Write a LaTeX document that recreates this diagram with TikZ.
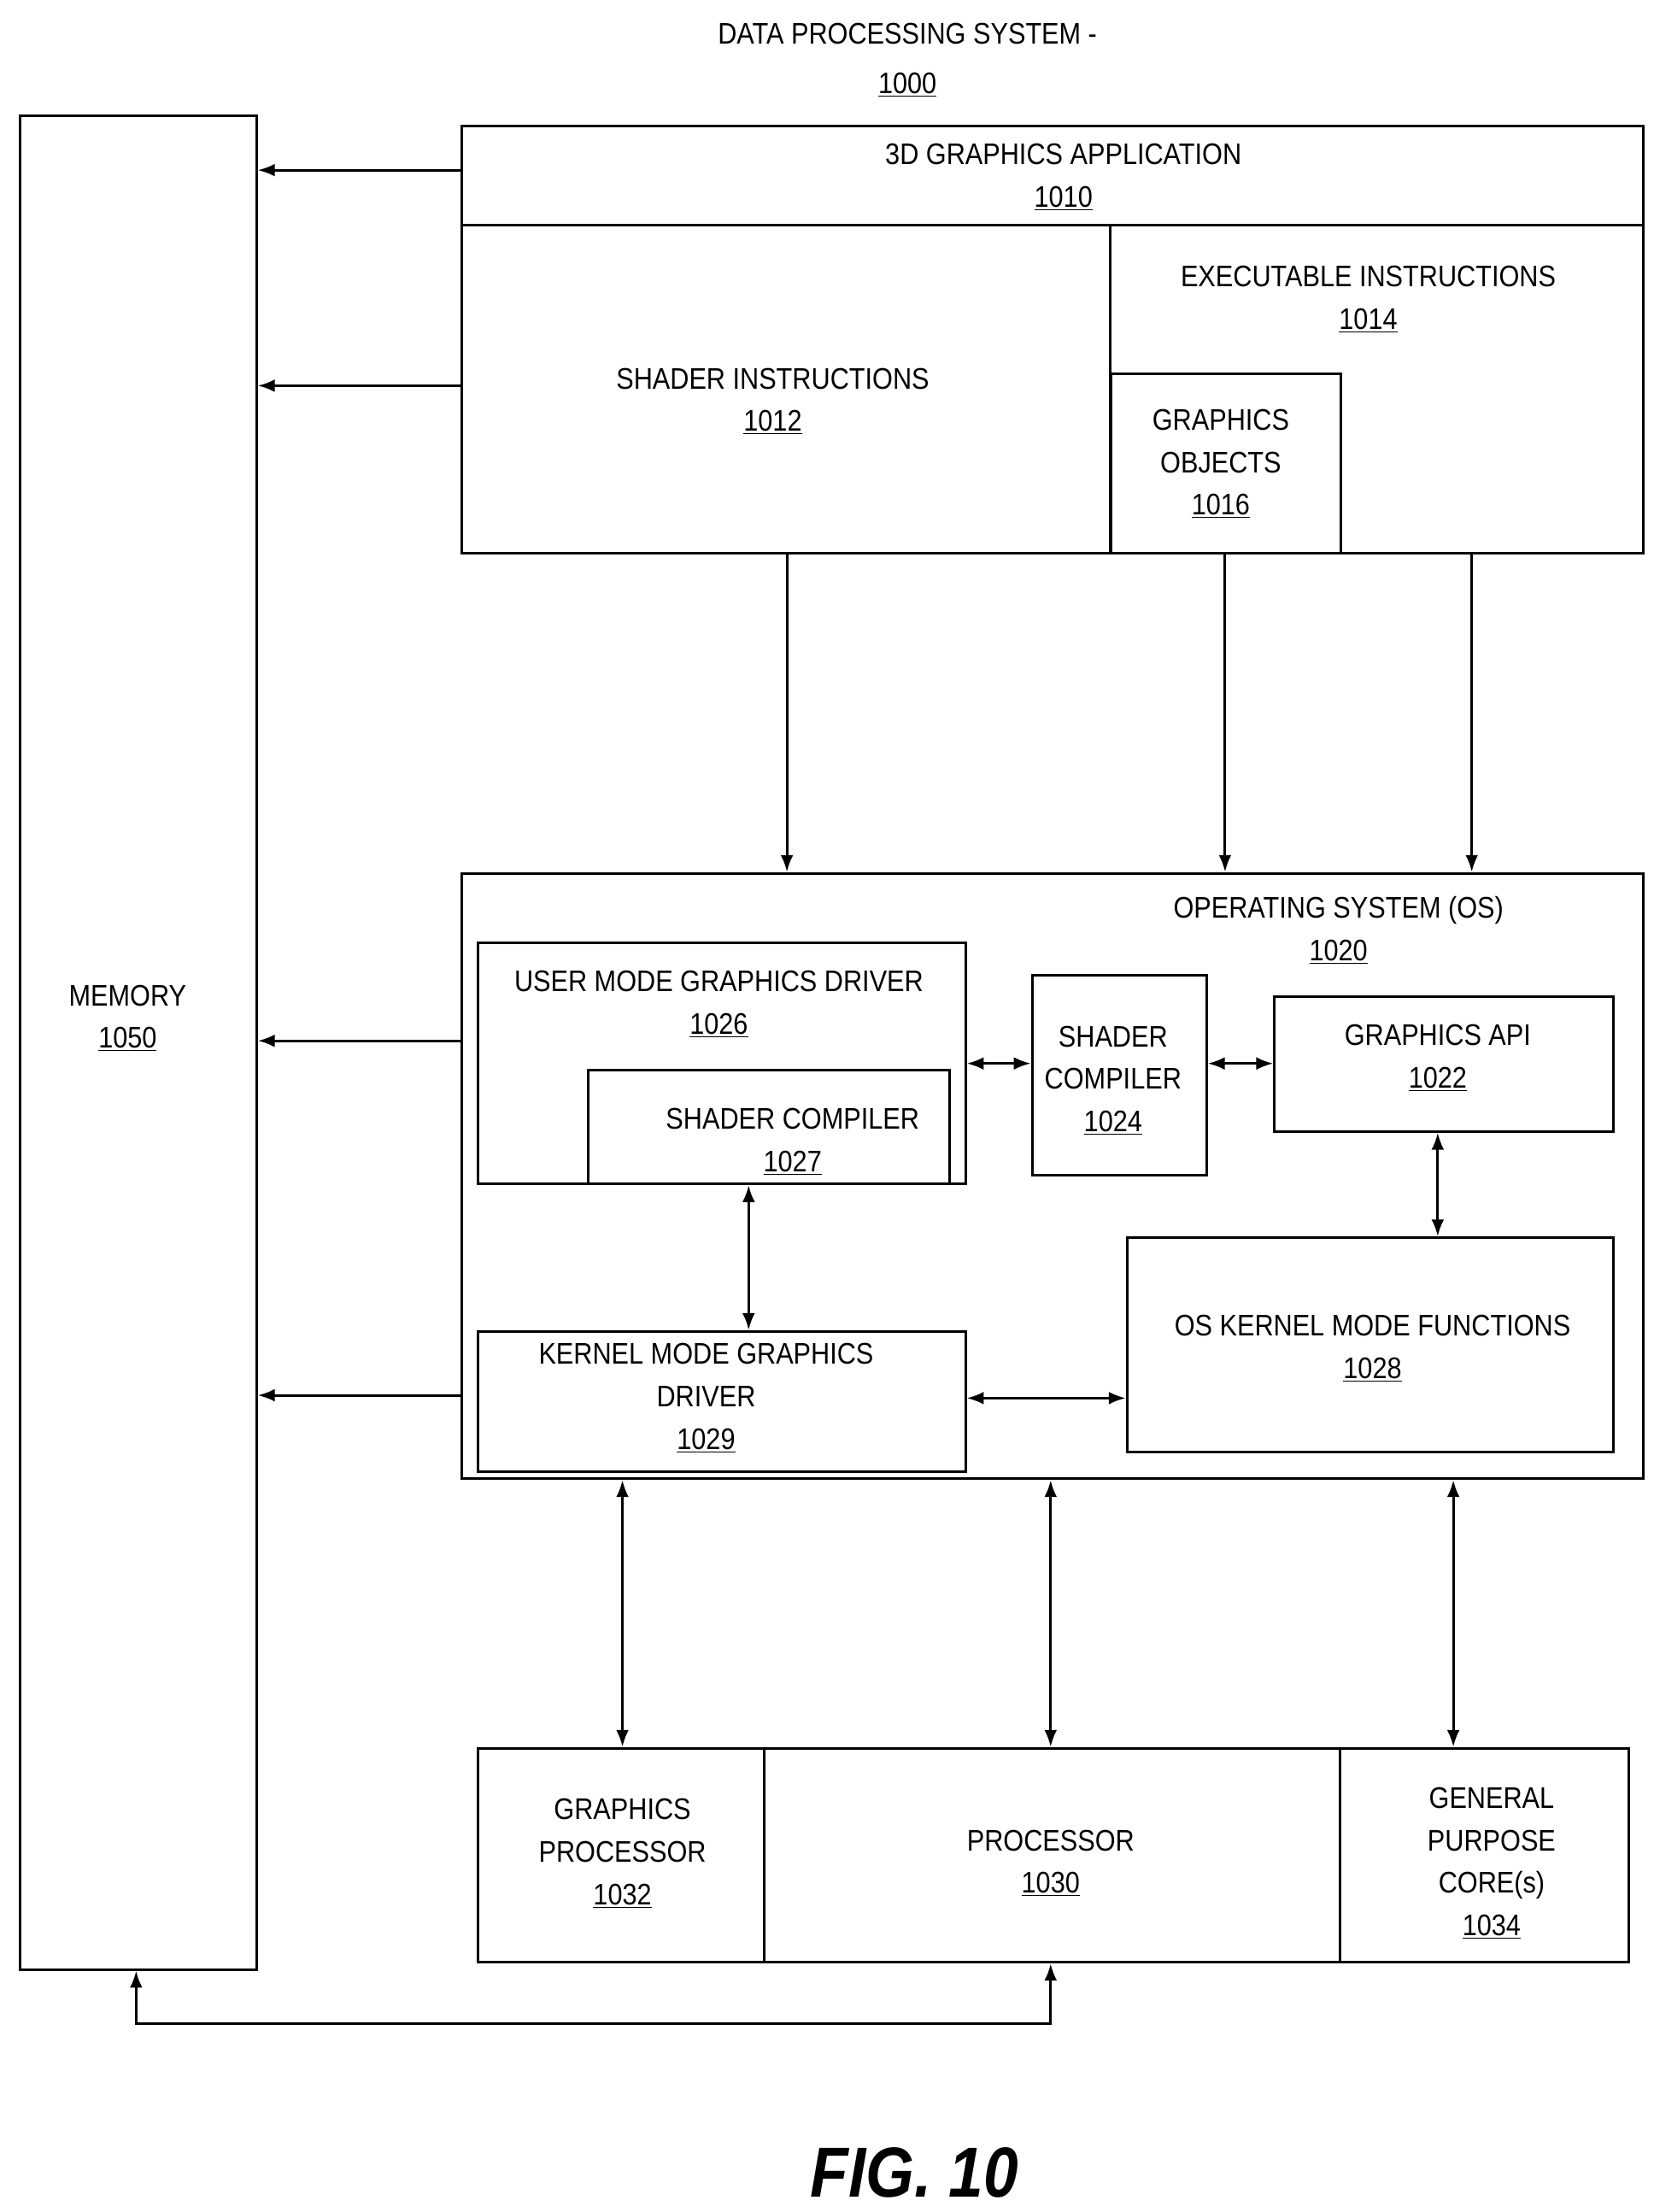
\documentclass[tikz,border=0pt]{standalone}
\usepackage{fontspec}
\setmainfont[FakeStretch=0.88]{Liberation Sans}
\usetikzlibrary{arrows.meta}
\begin{document}
\begin{tikzpicture}[x=1pt,y=-1pt,
  box/.style={draw,line width=1.8pt,anchor=north west,inner sep=0pt},
  t/.style={font=\fontsize{21}{30}\selectfont,align=center,inner sep=0pt},
  ar/.style={line width=1.8pt,-{Latex[length=12pt,width=9pt]}},
  dar/.style={line width=1.8pt,{Latex[length=12pt,width=9pt]}-{Latex[length=12pt,width=9pt]}}]
\useasboundingbox (0,0) rectangle (1166,1560);
\node[t] (title) at (640,24) {DATA PROCESSING SYSTEM -};
\node[t] (tnum) at (640,60) {\underline{1000}};
% memory
\node[box,minimum width=167,minimum height=1307] (mem) at (13,81) {};
\node[t] (memt) at (90,718) {MEMORY\\\underline{1050}};
% app
\node[box,minimum width=833,minimum height=301] (app) at (325,88) {};
\draw[line width=1.8pt] (325,159) -- (1158,159);
\draw[line width=1.8pt] (783,159) -- (783,389);
\node[t] (appt) at (750,125) {3D GRAPHICS APPLICATION\\\underline{1010}};
\node[t] (shi) at (545,283) {SHADER INSTRUCTIONS\\\underline{1012}};
\node[t] (exe) at (965,211) {EXECUTABLE INSTRUCTIONS\\\underline{1014}};
\node[box,minimum width=162,minimum height=126] (gobj) at (783,263) {};
\node[t] at (861,327) {GRAPHICS\\OBJECTS\\\underline{1016}};
% OS
\node[box,minimum width=833,minimum height=427] (os) at (325,615) {};
\node[t] at (944,656) {OPERATING SYSTEM (OS)\\\underline{1020}};
\node[box,minimum width=344,minimum height=170] (umd) at (336,664) {};
\node[t] at (507,708) {USER MODE GRAPHICS DRIVER\\\underline{1026}};
\node[box,minimum width=255,minimum height=80] (sc27) at (414,754) {};
\node[t] at (559,805) {SHADER COMPILER\\\underline{1027}};
\node[box,minimum width=123,minimum height=141] (sc24) at (727,687) {};
\node[t] at (785,762) {SHADER\\COMPILER\\\underline{1024}};
\node[box,minimum width=239,minimum height=95] (api) at (898,702) {};
\node[t] at (1014,746) {GRAPHICS API\\\underline{1022}};
\node[box,minimum width=343,minimum height=151] (okm) at (794,872) {};
\node[t] at (968,951) {OS KERNEL MODE FUNCTIONS\\\underline{1028}};
\node[box,minimum width=344,minimum height=99] (kmd) at (336,938) {};
\node[t] at (498,986) {KERNEL MODE GRAPHICS\\DRIVER\\\underline{1029}};
% processor
\node[box,minimum width=812,minimum height=151] (proc) at (336,1232) {};
\draw[line width=1.8pt] (539,1232) -- (539,1383) (945,1232) -- (945,1383);
\node[t] at (439,1307) {GRAPHICS\\PROCESSOR\\\underline{1032}};
\node[t] at (741,1314) {PROCESSOR\\\underline{1030}};
\node[t] at (1052,1314) {GENERAL\\PURPOSE\\CORE(s)\\\underline{1034}};
\node[t,font=\fontsize{50}{50}\selectfont\bfseries\itshape] (fig) at (645,1532) {FIG. 10};
% arrows to memory
\draw[ar] (app.west |- 0,120) -- (mem.east |- 0,120);
\draw[ar] (app.west |- 0,272) -- (mem.east |- 0,272);
\draw[ar] (os.west |- 0,734) -- (mem.east |- 0,734);
\draw[ar] (os.west |- 0,984) -- (mem.east |- 0,984);
% down arrows
\draw[ar] (app.south -| 555,0) -- (os.north -| 555,0);
\draw[ar] (app.south -| 864,0) -- (os.north -| 864,0);
\draw[ar] (app.south -| 1038,0) -- (os.north -| 1038,0);
% inner
\draw[dar] (umd.east |- 0,750) -- (sc24.west |- 0,750);
\draw[dar] (sc24.east |- 0,750) -- (api.west |- 0,750);
\draw[dar] (api.south -| 1014,0) -- (okm.north -| 1014,0);
\draw[dar] (umd.south -| 528,0) -- (kmd.north -| 528,0);
\draw[dar] (kmd.east |- 0,986) -- (okm.west |- 0,986);
% bottom
\draw[dar] (os.south -| 439,0) -- (proc.north -| 439,0);
\draw[dar] (os.south -| 741,0) -- (proc.north -| 741,0);
\draw[dar] (os.south -| 1025,0) -- (proc.north -| 1025,0);
\draw[dar] (mem.south -| 96,0) -- (96,1427) -- (741,1427) -- (proc.south -| 741,0);
\end{tikzpicture}
\end{document}
